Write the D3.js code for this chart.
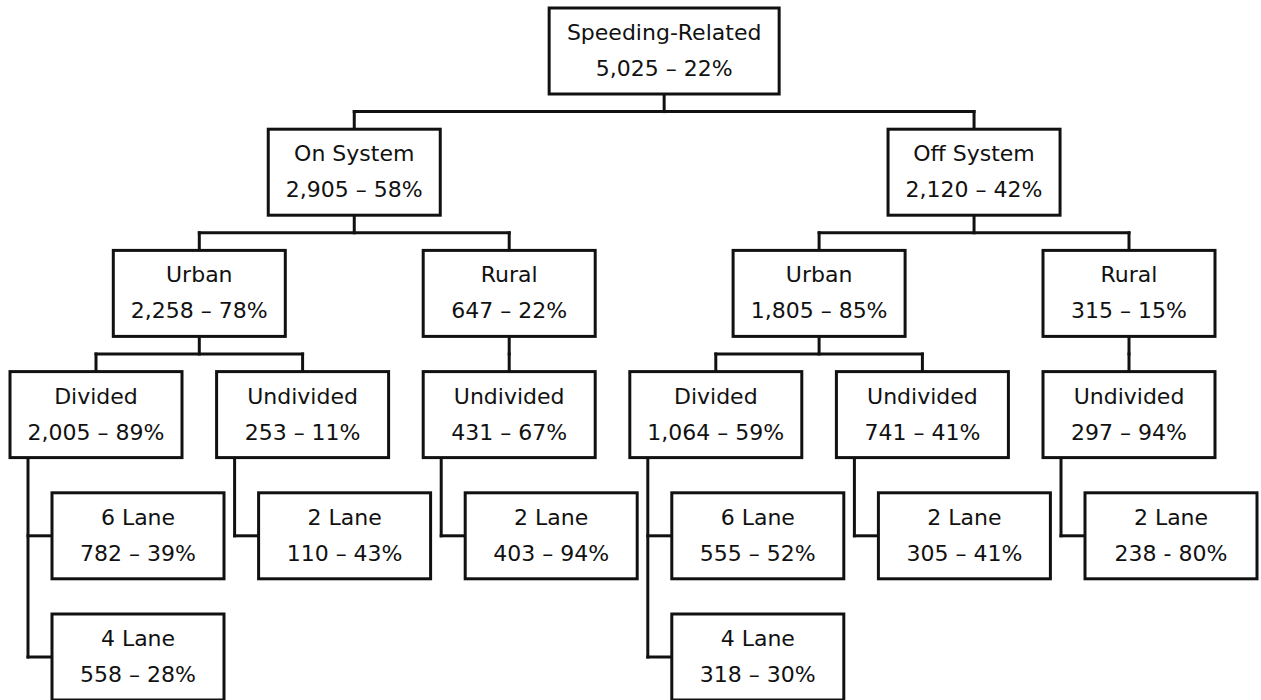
<!DOCTYPE html>
<html>
<head>
<meta charset="utf-8">
<script src="https://cdn.jsdelivr.net/npm/d3@7"></script>
<style>
  html, body { margin: 0; padding: 0; background: #fff; }
  svg { display: block; }
  text { font-family: "DejaVu Sans", sans-serif; font-size: 22px; fill: #111; }
</style>
</head>
<body>
<svg id="chart" width="1261" height="700"></svg>
<script>
// ---- data ----
const ids      = ["root","on","off","onU","onR","offU","offR","onUD","onUU","onRU","offUD","offUU","offRU",
                  "onUD6","onUD4","onUU2","onRU2","offUD6","offUD4","offUU2","offRU2"];
const parents  = [null,"root","root","on","on","off","off","onU","onU","onR","offU","offU","offR",
                  "onUD","onUD","onUU","onRU","offUD","offUD","offUU","offRU"];
const names    = ["Speeding-Related","On System","Off System","Urban","Rural","Urban","Rural",
                  "Divided","Undivided","Undivided","Divided","Undivided","Undivided",
                  "6 Lane","4 Lane","2 Lane","2 Lane","6 Lane","4 Lane","2 Lane","2 Lane"];
const counts   = [5025,2905,2120,2258,647,1805,315,2005,253,431,1064,741,297,782,558,110,403,555,318,305,238];
const percents = [22,58,42,78,22,85,15,89,11,67,59,41,94,39,28,43,94,52,30,41,80];
const seps     = ["–","–","–","–","–","–","–","–","–","–","–","–","–","–","–","–","–","–","–","–","-"];

// ---- layout constants ----
const boxW = 172, rootW = 230, boxH = 86;
const stroke = 3;

const rows = d3.range(ids.length).map(i => ({id: ids[i], parent: parents[i], name: names[i],
  count: counts[i], pct: percents[i], sep: seps[i]}));
const root = d3.stratify().id(d => d.id).parentId(d => d.parent)(rows);

// columns for depth-3 nodes (Divided / Undivided)
const colNodes = root.descendants().filter(d => d.depth === 3);
const colScale = d3.scaleLinear().domain([0, colNodes.length - 1]).range([10, 1043]);
const rowScale = d3.scaleLinear().domain([0, 5]).range([8, 614]);

colNodes.forEach((d, i) => { d.left = colScale(i); d.w = boxW; d.row = 3; });
// depth 4: indented children
root.descendants().filter(d => d.depth === 4).forEach(d => {
  const k = d.parent.children.indexOf(d);
  d.left = d.parent.left + 42; d.w = boxW; d.row = 4 + k;
});
// upper levels centered over children
[2, 1, 0].forEach(dep => {
  root.descendants().filter(d => d.depth === dep).forEach(d => {
    const cs = d.children.map(c => c.left + c.w / 2);
    const cx = d3.mean([d3.min(cs), d3.max(cs)]);
    d.w = dep === 0 ? rootW : boxW;
    d.left = cx - d.w / 2; d.row = dep;
  });
});
root.descendants().forEach(d => { d.top = rowScale(d.row); d.cx = d.left + d.w / 2; });

const svg = d3.select("#chart");

// ---- connectors ----
const paths = [];
root.descendants().filter(d => d.children).forEach(p => {
  if (p.depth < 3) {
    const childTop = p.children[0].top;
    const mid = (p.top + boxH + childTop) / 2;
    paths.push(`M${p.cx},${p.top + boxH}V${mid}`);
    const xs = p.children.map(c => c.cx);
    if (xs.length > 1) paths.push(`M${d3.min(xs)},${mid}H${d3.max(xs)}`);
    p.children.forEach(c => paths.push(`M${c.cx},${mid}V${c.top}`));
  } else {
    const x = p.left + 18;
    const last = p.children[p.children.length - 1];
    paths.push(`M${x},${p.top + boxH}V${last.top + boxH / 2}`);
    p.children.forEach(c => paths.push(`M${x},${c.top + boxH / 2}H${c.left}`));
  }
});
svg.append("g").selectAll("path").data(paths).join("path")
  .attr("d", d => d).attr("fill", "none").attr("stroke", "#111")
  .attr("stroke-width", stroke).attr("stroke-linecap", "square");

// ---- boxes ----
const fmt = d3.format(",");
const nodes = svg.append("g").selectAll("g").data(root.descendants()).join("g")
  .attr("transform", d => `translate(${d.left},${d.top})`);
nodes.append("rect").attr("width", d => d.w).attr("height", boxH)
  .attr("fill", "#fff").attr("stroke", "#111").attr("stroke-width", stroke);
nodes.append("text").attr("x", d => d.w / 2).attr("y", 32).attr("text-anchor", "middle")
  .text(d => d.data.name);
nodes.append("text").attr("x", d => d.w / 2).attr("y", 68).attr("text-anchor", "middle")
  .text(d => `${fmt(d.data.count)} ${d.data.sep} ${d.data.pct}%`);
</script>
</body>
</html>
